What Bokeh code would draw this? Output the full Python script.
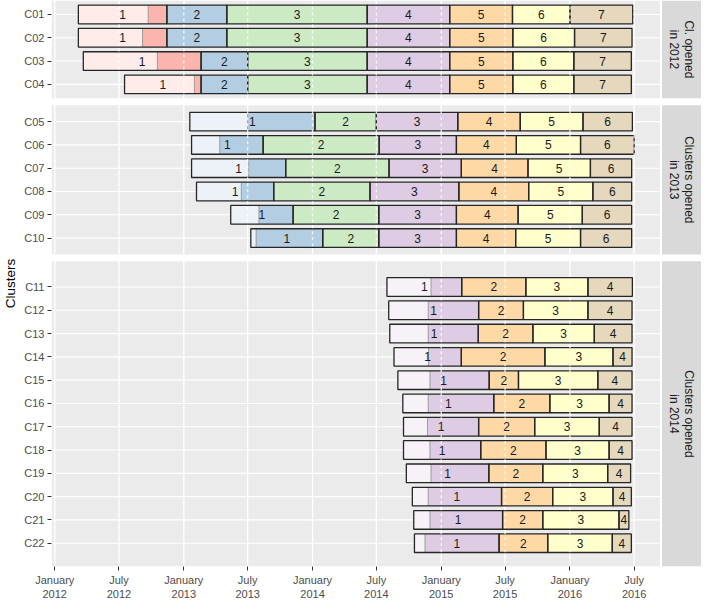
import math
import pandas as pd
from bokeh.plotting import figure
from bokeh.models import Range1d, FixedTicker, ColumnDataSource
from bokeh.embed import file_html
from bokeh.resources import INLINE
from bokeh.core.properties import value

# ---------------- data ----------------
ORIGIN = pd.Timestamp("2012-01-01")

pastel1 = ["#FBB4AE", "#B3CDE3", "#CCEBC5", "#DECBE4", "#FED9A6", "#FFFFCC", "#E5D8BD"]

tick_dates = ["2012-01-01", "2012-07-01", "2013-01-01", "2013-07-01", "2014-01-01",
              "2014-07-01", "2015-01-01", "2015-07-01", "2016-01-01", "2016-07-01"]
tick_labels = ["January\n2012", "July\n2012", "January\n2013", "July\n2013", "January\n2014",
               "July\n2014", "January\n2015", "July\n2015", "January\n2016", "July\n2016"]

strip_titles = ["Cl. opened\nin 2012", "Clusters opened\nin 2013", "Clusters opened\nin 2014"]
first_colour = [0, 1, 3]

# each row: start of light part, start of phase 1, start of phase 2 ... , end
clusters_2012 = ["C01", "C02", "C03", "C04"]
bounds_2012 = [
    ["2012-03-08", "2012-09-22", "2012-11-14", "2013-05-03", "2014-06-05", "2015-01-25", "2015-07-22", "2016-01-01", "2016-06-27"],
    ["2012-03-08", "2012-09-06", "2012-11-14", "2013-05-03", "2014-06-05", "2015-01-25", "2015-07-23", "2016-01-14", "2016-06-25"],
    ["2012-03-22", "2012-10-18", "2013-02-19", "2013-07-01", "2014-06-05", "2015-01-25", "2015-07-23", "2016-01-12", "2016-06-23"],
    ["2012-07-17", "2013-01-31", "2013-02-19", "2013-07-01", "2014-06-05", "2015-01-25", "2015-07-23", "2016-01-12", "2016-06-23"],
]

clusters_2013 = ["C05", "C06", "C07", "C08", "C09", "C10"]
bounds_2013 = [
    ["2013-01-18", "2013-07-01", "2014-01-08", "2014-07-01", "2015-02-17", "2015-08-13", "2016-02-07", "2016-06-26"],
    ["2013-01-23", "2013-04-13", "2013-08-14", "2014-07-09", "2015-02-13", "2015-08-02", "2016-01-31", "2016-07-01"],
    ["2013-01-23", "2013-07-04", "2013-10-17", "2014-08-06", "2015-02-27", "2015-09-04", "2016-02-28", "2016-06-24"],
    ["2013-02-06", "2013-06-13", "2013-09-13", "2014-06-13", "2015-02-20", "2015-09-06", "2016-03-06", "2016-06-24"],
    ["2013-05-14", "2013-08-02", "2013-11-07", "2014-07-08", "2015-02-13", "2015-08-07", "2016-02-05", "2016-06-24"],
    ["2013-07-10", "2013-07-25", "2014-01-30", "2014-07-08", "2015-02-13", "2015-07-31", "2016-01-31", "2016-06-24"],
]

clusters_2014 = ["C11", "C12", "C13", "C14", "C15", "C16", "C17", "C18", "C19", "C20", "C21", "C22"]
bounds_2014 = [
    ["2014-07-31", "2014-12-03", "2015-02-28", "2015-08-29", "2016-02-21", "2016-06-26"],
    ["2014-08-05", "2014-11-25", "2015-04-17", "2015-08-22", "2016-02-21", "2016-06-25"],
    ["2014-08-08", "2014-11-25", "2015-04-16", "2015-09-18", "2016-03-10", "2016-06-25"],
    ["2014-08-20", "2014-11-26", "2015-02-27", "2015-10-22", "2016-05-02", "2016-06-25"],
    ["2014-08-31", "2014-11-30", "2015-05-17", "2015-08-08", "2016-03-20", "2016-06-25"],
    ["2014-09-14", "2014-11-25", "2015-05-30", "2015-11-05", "2016-04-21", "2016-06-25"],
    ["2014-09-16", "2014-11-23", "2015-04-17", "2015-09-23", "2016-03-24", "2016-06-25"],
    ["2014-09-16", "2014-11-30", "2015-04-23", "2015-10-25", "2016-04-21", "2016-06-25"],
    ["2014-09-24", "2014-12-03", "2015-05-16", "2015-10-16", "2016-04-17", "2016-06-21"],
    ["2014-10-11", "2014-11-25", "2015-06-21", "2015-11-13", "2016-05-02", "2016-06-23"],
    ["2014-10-15", "2014-11-30", "2015-06-24", "2015-10-16", "2016-05-19", "2016-06-16"],
    ["2014-10-17", "2014-11-16", "2015-06-14", "2015-10-30", "2016-04-30", "2016-06-23"],
]

# ---------------- layout constants ----------------
ROW = 10          # spacing between rows (y units)
HALF_BAR = 4      # half bar height
PADS = [(6, 6), (7, 7), (11, 10)]
GAP = 3
X_LEFT, PANEL_RIGHT, STRIP_LEFT, X_RIGHT = -9.2, 1716, 1722, 1834

FONT = "Liberation Sans"


def days(d):
    return (pd.Timestamp(d) - ORIGIN).days


def lighten(hexc, f=0.25):
    r, g, b = (int(hexc[i:i + 2], 16) for i in (1, 3, 5))
    return "#%02X%02X%02X" % tuple(round(255 - (255 - c) * f) for c in (r, g, b))


ticks = [days(d) for d in tick_dates]
panels = [(clusters_2012, bounds_2012), (clusters_2013, bounds_2013), (clusters_2014, bounds_2014)]

fill = dict(left=[], right=[], top=[], bottom=[], color=[])
outl = dict(left=[], right=[], top=[], bottom=[])
divs = dict(x=[], y0=[], y1=[])
labs = dict(x=[], y=[], text=[])
panel_box = dict(left=[], right=[], top=[], bottom=[])
strip = dict(left=[], right=[], top=[], bottom=[], x=[], y=[], text=[])
vgrid = dict(x=[], y0=[], y1=[])
hgrid = dict(y=[])
ytick_pos, ytick_lab = [], []

y = 0
for pi, (names, bounds) in enumerate(panels):
    top = y
    y += PADS[pi][0]
    for name, b in zip(names, bounds):
        d = [days(v) for v in b]
        yc = y
        ytick_pos.append(yc)
        ytick_lab.append(name)
        hgrid["y"].append(yc)
        off = first_colour[pi]
        # light lead-in part and dark part of phase 1
        for l, r, c in ((d[0], d[1], lighten(pastel1[off])), (d[1], d[2], pastel1[off])):
            fill["left"].append(l); fill["right"].append(r)
            fill["top"].append(yc - HALF_BAR); fill["bottom"].append(yc + HALF_BAR)
            fill["color"].append(c)
        divs["x"].append(d[1]); divs["y0"].append(yc - HALF_BAR); divs["y1"].append(yc + HALF_BAR)
        n = len(d) - 2
        for i in range(1, n + 1):
            l = d[0] if i == 1 else d[i]
            r = d[i + 1]
            if i > 1:
                fill["left"].append(l); fill["right"].append(r)
                fill["top"].append(yc - HALF_BAR); fill["bottom"].append(yc + HALF_BAR)
                fill["color"].append(pastel1[off + i - 1])
            outl["left"].append(l); outl["right"].append(r)
            outl["top"].append(yc - HALF_BAR); outl["bottom"].append(yc + HALF_BAR)
            labs["x"].append((l + r) / 2); labs["y"].append(yc); labs["text"].append(str(i))
        y += ROW
    y -= ROW
    y += PADS[pi][1]
    bottom = y
    panel_box["left"].append(X_LEFT); panel_box["right"].append(PANEL_RIGHT)
    panel_box["top"].append(top); panel_box["bottom"].append(bottom)
    strip["left"].append(STRIP_LEFT); strip["right"].append(X_RIGHT)
    strip["top"].append(top); strip["bottom"].append(bottom)
    strip["x"].append((STRIP_LEFT + X_RIGHT) / 2); strip["y"].append((top + bottom) / 2)
    strip["text"].append(strip_titles[pi])
    for t in ticks:
        vgrid["x"].append(t); vgrid["y0"].append(top); vgrid["y1"].append(bottom)
    y += GAP
Y_TOTAL = y - GAP

p = figure(width=701, height=602, output_backend="svg", toolbar_location=None,
           x_range=Range1d(X_LEFT, X_RIGHT), y_range=Range1d(Y_TOTAL, 0),
           background_fill_color="white", border_fill_color="white",
           outline_line_color=None, min_border_top=0, min_border_right=0,
           min_border_left=43, min_border_bottom=0)
p.xgrid.visible = False
p.ygrid.visible = False

# panels & strips
p.quad(source=ColumnDataSource(panel_box), left="left", right="right", top="top", bottom="bottom",
       fill_color="#EBEBEB", line_color=None)
p.quad(source=ColumnDataSource({k: strip[k] for k in ("left", "right", "top", "bottom")}),
       left="left", right="right", top="top", bottom="bottom", fill_color="#D9D9D9", line_color=None)
p.segment(x0="x", y0="y0", x1="x", y1="y1", source=ColumnDataSource(vgrid),
          line_color="white", line_width=1.1)
p.segment(x0=X_LEFT, y0="y", x1=PANEL_RIGHT, y1="y", source=ColumnDataSource(hgrid),
          line_color="white", line_width=1.1)

# bars
p.quad(source=ColumnDataSource(fill), left="left", right="right", top="top", bottom="bottom",
       fill_color="color", line_color=None)
p.segment(x0="x", y0="y0", x1="x", y1="y1", source=ColumnDataSource(divs),
          line_color="#8C8C8C", line_width=0.8)
p.quad(source=ColumnDataSource(outl), left="left", right="right", top="top", bottom="bottom",
       fill_color=None, line_color="#262626", line_width=1.3)
# dashed white date lines across the bars
p.segment(x0="x", y0="y0", x1="x", y1="y1", source=ColumnDataSource(vgrid),
          line_color="white", line_width=1.4, line_alpha=0.8, line_dash="3 3")

p.text(x="x", y="y", text="text", source=ColumnDataSource(labs),
       text_font=value(FONT), text_font_size="12px", text_color="#1A1A1A",
       text_align="center", text_baseline="middle")
p.text(x="x", y="y", text="text", source=ColumnDataSource({k: strip[k] for k in ("x", "y", "text")}),
       angle=-math.pi / 2, text_font=value(FONT), text_font_size="12px", text_color="#1A1A1A",
       text_align="center", text_baseline="middle", text_line_height=1.05)

# axes
p.xaxis.ticker = FixedTicker(ticks=ticks)
p.xaxis.major_label_overrides = dict(zip(ticks, tick_labels))
p.yaxis.ticker = FixedTicker(ticks=ytick_pos)
p.yaxis.major_label_overrides = dict(zip(ytick_pos, ytick_lab))
for ax in (p.xaxis, p.yaxis):
    ax.axis_line_color = None
    ax.major_tick_line_color = "#333333"
    ax.major_tick_out = 4
    ax.major_tick_in = 0
    ax.minor_tick_line_color = None
    ax.major_label_text_font = FONT
    ax.major_label_text_font_size = "11px"
    ax.major_label_text_color = "#4D4D4D"
    ax.major_label_standoff = 3
p.yaxis.axis_label = "Clusters"
p.yaxis.axis_label_text_font = FONT
p.yaxis.axis_label_text_font_size = "13.5px"
p.yaxis.axis_label_text_font_style = "normal"
p.yaxis.axis_label_text_color = "black"
p.yaxis.axis_label_standoff = 3

open("out.html", "w").write(file_html(p, INLINE))
